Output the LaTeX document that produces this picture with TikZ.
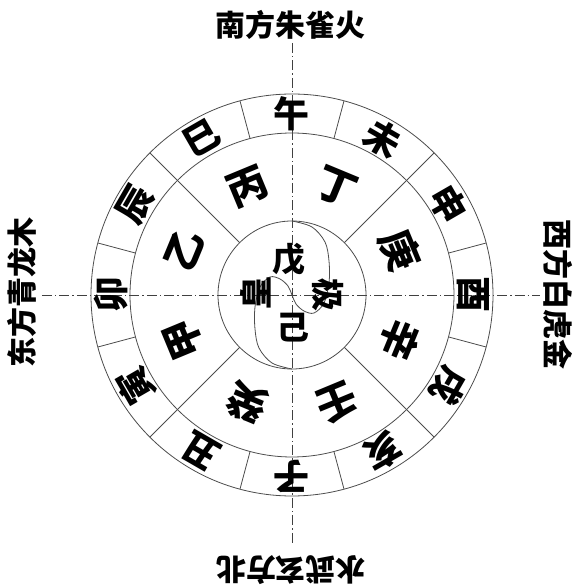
\documentclass[tikz,border=0pt]{standalone}
\usepackage{fontspec}
\newfontfamily\cjk{Noto Sans CJK SC}
\usetikzlibrary{calc}

\begin{document}
\begin{tikzpicture}[x=1pt,y=1pt,
  ring/.style={draw=black!70,line width=0.8pt},
  axis/.style={draw=black!75,line width=0.7pt,dash pattern=on 10pt off 3pt on 1.5pt off 3pt},
  zhi/.style={font={\cjk\bfseries\fontsize{36}{36}\selectfont},inner sep=0pt},
  gan/.style={font={\cjk\bfseries\fontsize{40}{40}\selectfont},inner sep=0pt},
  mid/.style={font={\cjk\bfseries\fontsize{33}{33}\selectfont},inner sep=0pt},
  fang/.style={font={\cjk\bfseries\fontsize{30}{30}\selectfont},inner sep=0pt}]

\useasboundingbox (-292,-291) rectangle (295,295);

\def\rin{74}
\def\rmid{162}
\def\rout{201}
\def\rzhi{181}
\def\rgan{117}

% axes
\draw[axis] (-250,0) -- (248,0);
\draw[axis] (0,252)  -- (0,-248);

% rings
\draw[ring] (0,0) circle (\rin);
\draw[ring] (0,0) circle (\rmid);
\draw[ring] (0,0) circle (\rout);

\draw[ring] ( 15:\rmid) -- ( 15:\rout);
\draw[ring] ( 75:\rmid) -- ( 75:\rout);
\draw[ring] (105:\rmid) -- (105:\rout);
\draw[ring] (165:\rmid) -- (165:\rout);
\draw[ring] (195:\rmid) -- (195:\rout);
\draw[ring] (255:\rmid) -- (255:\rout);
\draw[ring] (285:\rmid) -- (285:\rout);
\draw[ring] (345:\rmid) -- (345:\rout);

\draw[ring] ( 45:\rin) -- ( 45:\rout);
\draw[ring] (135:\rin) -- (135:\rout);
\draw[ring] (225:\rin) -- (225:\rout);
\draw[ring] (315:\rin) -- (315:\rout);

% taiji curve
\draw[ring] plot[smooth,tension=0.55] coordinates {(0,74) (20,68) (33,53) (37,34) (37,12) (32,-8) (22,-18) (12,-16) (4,-9) (0,0)
  (-4,9) (-12,16) (-22,18) (-32,8) (-37,-12) (-37,-34) (-33,-53) (-20,-68) (0,-74)};

% earthly branches
\node[zhi,rotate=   0] (b-wu)   at ( 90:\rzhi) {午};
\node[zhi,rotate= -30] (b-wei)  at ( 60:\rzhi) {未};
\node[zhi,rotate= -60] (b-shen) at ( 30:\rzhi) {申};
\node[zhi,rotate= -90] (b-you)  at (  0:\rzhi) {酉};
\node[zhi,rotate=-120] (b-xu)   at (-30:\rzhi) {戌};
\node[zhi,rotate=-150] (b-hai)  at (-60:\rzhi) {亥};
\node[zhi,rotate= 180] (b-zi)   at (-90:\rzhi) {子};
\node[zhi,rotate= 150] (b-chou) at (240:\rzhi) {丑};
\node[zhi,rotate= 120] (b-yin)  at (210:\rzhi) {寅};
\node[zhi,rotate=  90] (b-mao)  at (180:\rzhi) {卯};
\node[zhi,rotate=  60] (b-chen) at (150:\rzhi) {辰};
\node[zhi,rotate=  30] (b-si)   at (120:\rzhi) {巳};

% heavenly stems
\node[gan,rotate=  22.5] (g-bing) at (112.5:\rgan) {丙};
\node[gan,rotate= -22.5] (g-ding) at ( 67.5:\rgan) {丁};
\node[gan,rotate= -67.5] (g-geng) at ( 22.5:\rgan) {庚};
\node[gan,rotate=-112.5] (g-xin)  at (-22.5:\rgan) {辛};
\node[gan,rotate=-157.5] (g-ren)  at (-67.5:\rgan) {壬};
\node[gan,rotate= 157.5] (g-gui)  at (247.5:\rgan) {癸};
\node[gan,rotate= 112.5] (g-jia)  at (202.5:\rgan) {甲};
\node[gan,rotate=  67.5] (g-yi)   at (157.5:\rgan) {乙};

% centre
\node[mid]            (c-top)    at (-3,36)  {戊};
\node[mid]            (c-bottom) at (1,-33)  {己};
\node[mid,rotate= 90] (c-left)   at (-36,2)  {皇};
\node[mid,rotate=-90] (c-right)  at (36,0)   {极};

% four directions
\node[fang]             (south) at (-1,270)  {南方朱雀火};
\node[fang,rotate= 180] (north) at (-1,-275) {水武玄方北};
\node[fang,rotate=  90] (east)  at (-270,2)  {东方青龙木};
\node[fang,rotate= -90] (west)  at (266,0)   {西方白虎金};

\end{tikzpicture}
\end{document}
